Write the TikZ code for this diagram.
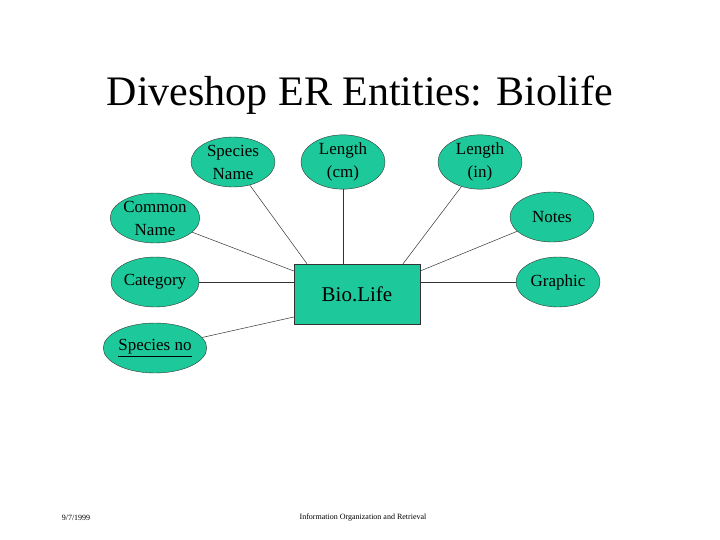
\documentclass[tikz,border=0pt]{standalone}
\usepackage{fontspec}
\setmainfont{Liberation Serif}
\usetikzlibrary{shapes.geometric}
\definecolor{biogreen}{HTML}{1DC99A}
\tikzset{attr/.style={ellipse,draw=black!80,fill=biogreen,minimum width=84pt,minimum height=50pt,inner sep=0pt,align=center,font=\fontsize{17}{23}\selectfont},
  ent/.style={rectangle,draw=black!80,fill=biogreen,minimum width=126pt,minimum height=60pt,font=\fontsize{21}{25}\selectfont},
  link/.style={draw=black!80,line width=0.5pt}}
\begin{document}
\begin{tikzpicture}[x=1pt,y=-1pt]
\useasboundingbox (0,0) rectangle (720,540);
\node at (360,95) {\fontsize{42}{46}\selectfont Diveshop ER Entities: Biolife};

\node[ent] (bio) at (357,294) {Bio.Life};

\node[attr] (sname) at (233,162) {Species\\Name};
\node[attr] (lcm) at (343,162) {Length\\(cm)};
\node[attr] (lin) at (480,162) {Length\\(in)};
\node[attr] (cname) at (155,218) {Common\\Name};
\node[attr] (notes) at (552,217) {Notes};
\node[attr] (cat) at (155,282) {Category};
\node[attr] (graph) at (558,282) {Graphic};
\node[attr] (sno) at (155,348) {\underline{Species no}};

\draw[link] (sname) -- (bio.north west -| 307,0);
\draw[link] (lcm) -- (lcm |- bio.north);
\draw[link] (lin) -- (bio.north east -| 403,0);
\draw[link] (cname) -- (bio.160);
\draw[link] (notes) -- (bio.20);
\draw[link] (cat) -- (cat -| bio.west);
\draw[link] (graph) -- (graph -| bio.east);
\draw[link] (sno) -- (bio.200);

\node at (76,518) {\fontsize{8}{9}\selectfont 9/7/1999};
\node at (363,518) {\fontsize{8}{9}\selectfont Information Organization and Retrieval};
\end{tikzpicture}
\end{document}
